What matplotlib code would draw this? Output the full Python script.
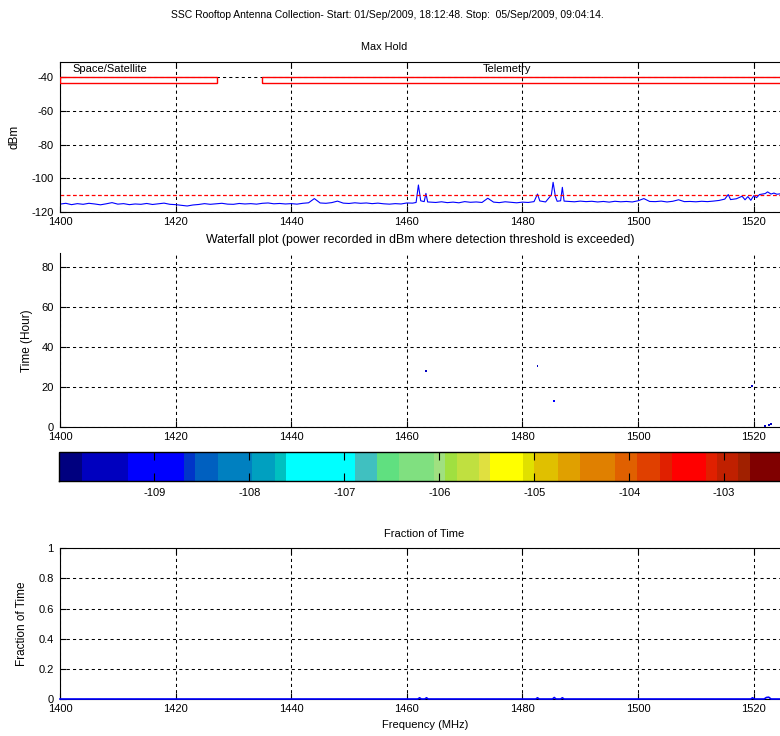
import matplotlib
matplotlib.use("Agg")
import matplotlib.pyplot as plt
from matplotlib.colors import ListedColormap, BoundaryNorm
from matplotlib.cm import ScalarMappable
from matplotlib.patches import Rectangle

plt.rcParams['font.family'] = ['Liberation Sans', 'DejaVu Sans']
plt.rcParams['font.size'] = 8
plt.rcParams['axes.unicode_minus'] = False

# Max Hold trace (MHz, dBm)
maxhold_freq = [1400, 1401, 1402, 1403, 1404, 1405, 1406, 1407, 1408, 1409,
                1410, 1411, 1412, 1413, 1414, 1415, 1416, 1417, 1418, 1419,
                1420, 1421, 1422, 1423, 1424, 1425, 1426, 1427, 1428, 1429,
                1430, 1431, 1432, 1433, 1434, 1435, 1436, 1437, 1438, 1439,
                1440, 1441, 1442, 1443, 1444, 1445, 1446, 1447, 1448, 1449,
                1450, 1451, 1452, 1453, 1454, 1455, 1456, 1457, 1458, 1459,
                1460, 1461, 1461.6, 1462, 1462.4, 1463, 1463.3, 1463.6, 1464, 1465,
                1466, 1467, 1468, 1469, 1470, 1471, 1472, 1473, 1474, 1475,
                1476, 1477, 1478, 1479, 1480, 1481, 1482, 1482.6, 1483, 1484,
                1485, 1485.3, 1485.7, 1486, 1486.6, 1486.9, 1487.2, 1488, 1489, 1490,
                1491, 1492, 1493, 1494, 1495, 1496, 1497, 1498, 1499, 1500,
                1501, 1502, 1503, 1504, 1505, 1506, 1507, 1508, 1509, 1510,
                1511, 1512, 1513, 1514, 1515, 1515.6, 1516, 1517, 1518, 1518.5,
                1519, 1519.5, 1520, 1520.5, 1521, 1522, 1522.4, 1523, 1523.5, 1524,
                1525]
maxhold_dbm = [-115.5, -115.0, -115.8, -115.2, -115.6, -115.0, -115.4, -115.9, -115.3, -114.6,
               -115.5, -115.2, -115.8, -115.4, -115.6, -115.1, -115.7, -115.3, -114.9, -115.6,
               -115.8, -116.2, -116.6, -116.0, -115.7, -115.2, -115.6, -115.3, -115.0, -115.5,
               -115.6, -115.1, -115.4, -115.2, -115.5, -115.0, -114.8, -115.3, -115.1, -115.4,
               -115.2, -115.5, -115.0, -114.7, -112.2, -114.8, -115.0, -114.6, -113.7, -114.9,
               -115.1, -114.7, -115.0, -114.8, -115.2, -114.9, -115.3, -115.5, -115.2, -115.4,
               -114.8, -114.9, -114.5, -104.1, -113.5, -114.0, -109.1, -114.2, -114.3, -114.5,
               -114.1, -114.6, -114.3, -114.7, -114.0, -114.4, -114.2, -114.5, -112.0, -114.3,
               -114.6, -114.1, -114.4, -114.7, -114.3, -114.5, -114.0, -109.5, -113.6, -114.2,
               -110.0, -102.5, -111.0, -113.8, -113.5, -105.5, -113.7, -113.9, -114.1, -113.7,
               -114.0, -113.8, -114.2, -113.9, -114.3, -113.8, -114.1, -113.9, -114.2, -113.5,
               -112.2, -113.9, -114.0, -113.7, -114.2, -113.8, -112.9, -114.0, -113.9, -114.1,
               -113.8, -114.0, -113.7, -113.3, -112.5, -109.8, -112.8, -112.3, -110.8, -112.9,
               -111.0, -113.2, -110.5, -111.6, -109.8, -109.2, -108.2, -109.5, -108.9, -109.6,
               -109.2]
threshold_dbm = -110

# band allocations
band_names = ['Space/Satellite', 'Telemetry']
band_start = [1400, 1435]
band_stop = [1427.1, 1530]
band_label_x = [1402.1, 1473.2]

# waterfall detections
wf_freq = [1463.3, 1482.6, 1485.5, 1519.7, 1522.0, 1522.6, 1523.0]
wf_hour = [28.2, 30.4, 13.1, 20.5, 0.6, 1.0, 1.6]
wf_dbm = [-109.3, -109.5, -109.0, -109.6, -109.4, -109.7, -109.5]

# fraction of time
frac_freq = [1400, 1461.9, 1462.2, 1462.5, 1463.1, 1463.4, 1463.7, 1482.3, 1482.6, 1482.9,
             1485.2, 1485.5, 1485.8, 1486.6, 1486.9, 1487.2, 1519.5, 1519.8, 1520.1,
             1521.8, 1522.2, 1522.6, 1523.0, 1525]
frac_val = [0, 0, 0.008, 0, 0, 0.008, 0, 0, 0.008, 0,
            0, 0.01, 0, 0, 0.008, 0, 0, 0.008, 0,
            0, 0.01, 0.012, 0, 0]

# colour scale as it appears in the picture
cbar_edges = [-110.00, -109.76, -109.28, -108.69, -108.57, -108.33, -107.97, -107.73,
              -107.61, -106.89, -106.66, -106.42, -106.05, -105.94, -105.81, -105.58,
              -105.47, -105.12, -105.00, -104.75, -104.52, -104.15, -103.92, -103.68,
              -103.55, -103.19, -103.08, -102.85, -102.73, -102.38]
cbar_colors = ['#00007F', '#0000BF', '#0000FF', '#0035C8', '#0060C0', '#0080C0', '#00A0C0',
               '#00C0C0', '#00FFFF', '#40C0C0', '#60E080', '#80E080', '#A0E080', '#A0E040',
               '#C0E040', '#E0E040', '#FFFF00', '#E0E000', '#E0C000', '#E0A000', '#E08000',
               '#E06000', '#E04000', '#E02000', '#FF0000', '#E02000', '#C02000', '#A02000',
               '#800000']
cbar_ticks = [-109, -108, -107, -106, -105, -104, -103]

freq_ticks = [1400, 1420, 1440, 1460, 1480, 1500, 1520]
xlim = (1400, 1525)

cmap = ListedColormap(cbar_colors)
norm = BoundaryNorm(cbar_edges, cmap.N)

W, H = 780, 736
fig = plt.figure(figsize=(W / 100, H / 100), dpi=100)


def ax_rect(left, top, right, bottom):
    return [left / W, 1 - bottom / H, (right - left) / W, (bottom - top) / H]


def style(ax, box=True):
    ax.set_xlim(*xlim)
    ax.set_xticks(freq_ticks)
    ax.grid(True, color='black', linestyle=(0, (3, 3)), linewidth=0.75)
    ax.tick_params(direction='in', length=4, width=0.8, top=box, right=False,
                   labelsize=8)
    ax.tick_params(axis='x', pad=3.5)
    ax.tick_params(axis='y', pad=4.5)
    for s in ax.spines.values():
        s.set_linewidth(0.8)
    ax.spines['right'].set_visible(False)
    if not box:
        ax.spines['top'].set_visible(False)


# Max Hold
ax1 = fig.add_axes(ax_rect(60, 61.7, 782.6, 211.7))
style(ax1)
ax1.set_ylim(-120, -30.7)
ax1.set_yticks([-120, -100, -80, -60, -40])
ax1.plot(maxhold_freq, maxhold_dbm, color='#0000FF', linewidth=0.8)
ax1.axhline(threshold_dbm, color='red', linestyle=(0, (3, 2)), linewidth=0.9)
for name, x0, x1, lx in zip(band_names, band_start, band_stop, band_label_x):
    ax1.add_patch(Rectangle((x0, -43.2), x1 - x0, 3.2, fill=False, edgecolor='red',
                            linewidth=1.0, clip_on=True, zorder=3))
    ax1.text(lx, -35.3, name, ha='left', va='center', fontsize=8)
ax1.set_ylabel('dBm', fontsize=8.5)
ax1.yaxis.set_label_coords((20 - 60) / 722.6, 0.5)

# Waterfall
ax2 = fig.add_axes(ax_rect(60, 253.3, 782.6, 427.3))
style(ax2, box=False)
ax2.set_ylim(0, 86.86)
ax2.set_yticks([0, 20, 40, 60, 80])
ax2.scatter(wf_freq, wf_hour, c=wf_dbm, cmap=cmap, norm=norm, marker='s', s=2,
            linewidths=0, zorder=3)
ax2.set_ylabel('Time (Hour)', fontsize=8.5)
ax2.yaxis.set_label_coords((33 - 60) / 722.6, 0.5)

# colour bar
cax = fig.add_axes(ax_rect(59.3, 452, 783, 481.3))
cb = fig.colorbar(ScalarMappable(norm=norm, cmap=cmap), cax=cax,
                  orientation='horizontal', spacing='proportional', ticks=cbar_ticks)
cb.minorticks_off()
cb.outline.set_linewidth(1.0)
cb.ax.set_xticklabels([str(t) for t in cbar_ticks])
cax.tick_params(axis='x', which='major', direction='in', length=6, width=0.8,
                top=True, bottom=True, labelsize=8, pad=5)
cax.tick_params(axis='x', which='minor', length=0)

# Fraction of Time
ax3 = fig.add_axes(ax_rect(60, 548.3, 782.6, 699))
style(ax3)
ax3.set_ylim(0, 1)
ax3.set_yticks([0, 0.2, 0.4, 0.6, 0.8, 1])
ax3.set_yticklabels(['0', '0.2', '0.4', '0.6', '0.8', '1'])
ax3.plot(frac_freq, frac_val, color='#0000FF', linewidth=1.2, clip_on=False, zorder=3)
ax3.set_ylabel('Fraction of Time', fontsize=8.5)
ax3.yaxis.set_label_coords((28 - 60) / 722.6, 0.5)
ax3.set_xlabel('Frequency (MHz)', fontsize=8)
ax3.xaxis.set_label_coords((425 - 60) / 722.6, -0.14)

# titles
fig.text(387 / W, 1 - 15 / H, 'SSC Rooftop Antenna Collection- Start: 01/Sep/2009, 18:12:48. '
         'Stop:  05/Sep/2009, 09:04:14.', ha='center', va='center', fontsize=7.45)
fig.text(384 / W, 1 - 46.5 / H, 'Max Hold', ha='center', va='center', fontsize=7.8)
fig.text(420 / W, 1 - 240 / H, 'Waterfall plot (power recorded in dBm where detection '
         'threshold is exceeded)', ha='center', va='center', fontsize=8.9)
fig.text(424 / W, 1 - 534 / H, 'Fraction of Time', ha='center', va='center', fontsize=8)

fig.savefig('out.png', dpi=100)
